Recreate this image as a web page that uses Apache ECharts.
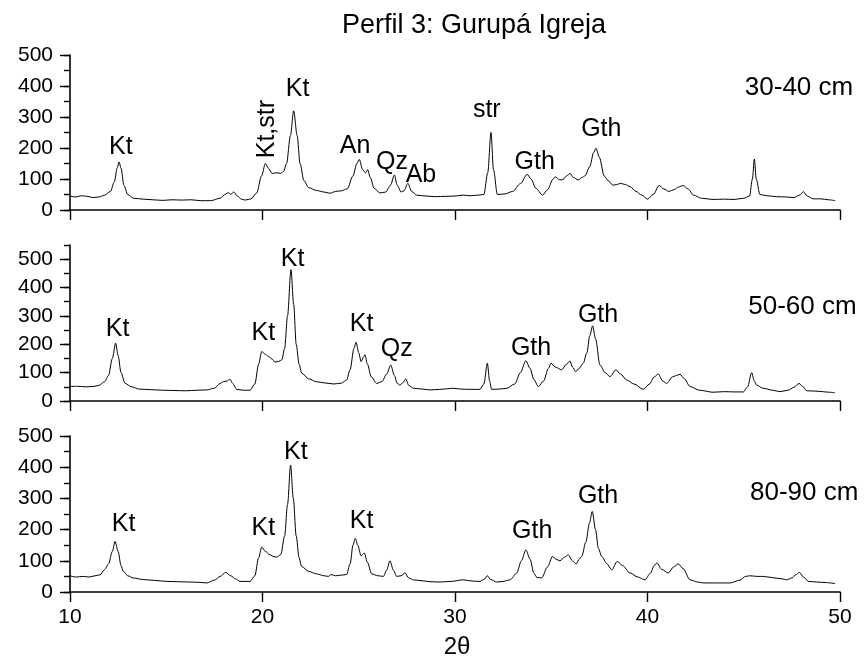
<!DOCTYPE html>
<html>
<head>
<meta charset="utf-8">
<title>Perfil 3: Gurupá Igreja</title>
<script src="https://cdn.jsdelivr.net/npm/echarts@6/dist/echarts.min.js"></script>
<style>
	html, body { margin: 0; padding: 0; background: #fff; }
	#chart { width: 866px; height: 662px; }
</style>
</head>
<body>
<div id="chart"></div>
<script>
// 2theta / counts, one pair of arrays per depth
var angle1 = [10.0,10.3,10.6,10.9,11.2,11.5,11.8,12.1,12.3,12.45,12.55,12.65,12.8,13.0,13.3,13.8,14.3,14.8,15.3,15.8,16.3,16.8,17.3,17.8,18.1,18.25,18.35,18.5,18.7,18.9,19.1,19.4,19.7,19.95,20.15,20.3,20.5,20.75,20.95,21.1,21.25,21.45,21.62,21.8,21.95,22.15,22.4,22.8,23.2,23.5,23.8,24.1,24.4,24.7,24.9,25.03,25.2,25.35,25.46,25.6,25.8,26.1,26.4,26.65,26.85,27.0,27.2,27.35,27.55,27.75,28.0,28.5,29.0,29.5,30.0,30.4,30.8,31.2,31.5,31.7,31.87,32.0,32.2,32.6,33.0,33.4,33.75,33.95,34.2,34.55,34.8,35.1,35.2,35.45,35.6,35.8,35.97,36.15,36.4,36.6,36.75,37.0,37.2,37.32,37.5,37.75,37.95,38.2,38.4,38.6,38.85,39.1,39.4,39.7,40.0,40.3,40.6,40.85,41.1,41.4,41.6,41.86,42.1,42.4,42.8,43.4,44.0,44.5,45.0,45.3,45.45,45.55,45.65,45.84,46.2,46.7,47.2,47.6,47.9,48.1,48.3,48.6,49.0,49.4,49.75];
var counts1 = [45,42,46,44,40,42,48,60,90,135,155,135,80,50,38,35,33,31,33,32,33,30,30,38,52,56,50,58,45,35,32,36,55,110,150,135,118,120,118,125,150,240,320,240,150,95,72,63,58,54,60,62,68,110,150,163,130,120,130,105,70,55,58,80,113,80,58,62,86,60,48,45,43,44,45,48,46,48,50,120,250,130,50,52,60,85,115,100,70,48,65,100,107,97,98,110,118,105,97,105,110,140,185,199,170,110,95,80,82,86,82,75,60,48,35,50,79,68,60,66,74,79,68,48,38,34,35,34,38,45,100,164,100,50,46,43,42,40,48,59,45,36,36,33,30];

var angle2 = [10.0,10.4,10.8,11.2,11.5,11.8,12.0,12.2,12.37,12.5,12.65,12.86,13.2,13.6,14.2,14.8,15.4,16.0,16.6,17.1,17.5,17.8,17.96,18.15,18.31,18.45,18.66,19.0,19.35,19.6,19.8,19.96,20.15,20.3,20.5,20.65,20.85,21.0,21.15,21.3,21.48,21.62,21.75,21.9,22.04,22.4,22.8,23.2,23.7,24.1,24.37,24.55,24.75,24.86,25.0,25.12,25.25,25.32,25.45,25.65,25.93,26.2,26.45,26.66,26.85,27.0,27.14,27.3,27.44,27.6,27.84,28.3,28.7,29.2,29.6,29.9,30.3,30.8,31.3,31.5,31.68,31.8,31.9,32.3,32.7,33.1,33.4,33.68,33.9,34.1,34.33,34.6,34.85,34.99,35.2,35.54,35.8,35.97,36.1,36.27,36.45,36.66,36.85,37.0,37.15,37.3,37.53,37.8,38.05,38.36,38.6,38.92,39.3,39.78,40.1,40.35,40.56,40.8,41.0,41.3,41.5,41.69,41.9,42.21,42.7,43.4,44.0,44.5,44.98,45.2,45.41,45.55,45.67,46.0,46.5,46.88,47.3,47.6,47.87,48.05,48.27,48.7,49.1,49.4,49.74];
var counts2 = [51,52,50,51,55,68,90,150,204,160,100,62,50,42,40,38,37,36,38,39,45,62,68,70,77,62,41,38,38,60,130,174,165,157,148,137,140,145,185,300,463,340,200,130,98,78,68,64,60,63,74,110,185,207,170,139,155,163,130,85,62,68,95,127,90,62,56,65,78,55,45,42,39,41,43,45,42,41,41,60,133,70,41,42,45,60,100,142,115,75,51,70,115,133,120,110,130,141,120,104,115,133,170,230,265,220,127,100,86,110,95,74,60,41,60,85,95,70,62,85,90,94,80,51,38,31,33,32,32,50,100,70,56,45,38,33,38,48,62,52,36,35,33,31,29];

var angle3 = [10.0,10.3,10.69,11.0,11.3,11.56,11.8,12.0,12.2,12.34,12.5,12.65,12.77,13.0,13.29,13.8,14.4,15.02,15.6,16.2,16.7,17.1,17.5,17.8,18.09,18.35,18.6,18.83,19.35,19.6,19.8,19.96,20.15,20.39,20.6,20.74,20.95,21.15,21.3,21.46,21.6,21.75,21.9,22.03,22.4,22.81,23.2,23.42,23.56,23.8,24.1,24.37,24.55,24.7,24.82,24.95,25.12,25.29,25.45,25.67,26.0,26.28,26.45,26.62,26.8,26.97,27.2,27.4,27.6,27.84,28.3,28.7,29.22,29.8,30.43,30.9,31.3,31.5,31.68,31.85,32.17,32.5,32.86,33.2,33.45,33.68,33.9,34.1,34.25,34.5,34.8,35.07,35.25,35.45,35.7,35.89,36.1,36.29,36.45,36.58,36.8,36.98,37.13,37.3,37.45,37.62,37.9,38.14,38.43,38.7,39.09,39.5,39.87,40.15,40.35,40.48,40.75,41.08,41.35,41.6,41.85,42.21,42.6,42.9,43.5,44.29,44.8,45.1,45.32,45.7,46.01,46.5,47.0,47.22,47.5,47.7,47.89,48.1,48.36,48.8,49.3,49.74];
var counts3 = [52,48,50,48,52,55,72,90,130,162,130,85,66,52,45,40,37,34,33,32,31,29,38,50,63,52,42,34,34,52,110,144,130,119,113,112,120,180,280,407,300,180,110,82,66,58,52,50,56,52,54,56,90,150,172,150,116,125,95,58,52,50,70,100,70,50,52,61,45,39,36,33,32,34,39,35,34,40,52,40,32,34,39,60,100,135,105,60,47,45,80,114,105,100,112,119,100,90,105,114,160,220,258,200,140,114,90,71,98,85,61,48,39,60,85,93,72,61,80,90,75,39,32,29,29,29,38,50,52,50,50,46,42,39,45,55,63,48,34,32,30,27];

// peak labels: [2theta, counts, text]
var peaks1 = [[12.64, 202, 'Kt'], [21.82, 390, 'Kt'], [24.81, 207, 'An'], [26.73, 154, 'Qz'], [28.23, 113, 'Ab'], [31.65, 323, 'str'], [34.14, 153, 'Gth'], [37.6, 262, 'Gth']];
var rotated1 = [[20.26, 261, 'Kt,str']];
var peaks2 = [[12.47, 253, 'Kt'], [20.04, 239, 'Kt'], [21.56, 501, 'Kt'], [25.15, 271, 'Kt'], [26.97, 183, 'Qz'], [33.95, 188, 'Gth'], [37.43, 304, 'Gth']];
var peaks3 = [[12.78, 219, 'Kt'], [20.04, 204, 'Kt'], [21.73, 449, 'Kt'], [25.15, 226, 'Kt'], [34.01, 196, 'Gth'], [37.43, 308, 'Gth']];
var depths = [[47.87, 395, '30-40 cm'], [48.05, 332, '50-60 cm'], [48.14, 318, '80-90 cm']];

var yTicks = [0, 100, 200, 300, 400, 500];
var yMax = [500, 550, 500];

var font = 'Liberation Sans, Arial, sans-serif';

function pairs(xs, ys) {
	var out = [];
	for (var i = 0; i < xs.length; i++) {
		out.push([xs[i], ys[i]]);
	}
	return out;
}

function xAxisFor(i, showLabels) {
	return {
		type: 'value', gridIndex: i, min: 10, max: 50, interval: 10,
		axisLine: { lineStyle: { color: '#000', width: 1.6 } },
		axisTick: { length: 10, lineStyle: { color: '#000', width: 1.4 } },
		axisLabel: { show: showLabels, fontFamily: font, fontSize: 21, color: '#000', margin: 15 },
		splitLine: { show: false },
		name: showLabels ? '2θ' : '',
		nameLocation: 'middle', nameGap: 43,
		nameTextStyle: { fontFamily: font, fontSize: 24, color: '#000', padding: [0, 0, 0, 4] }
	};
}

// two y axes per panel: one carries the line and the short 50-step ticks,
// the other only the long ticks and the labels at the hundreds
function yAxesFor(i) {
	return [{
		type: 'value', gridIndex: i, position: 'left', min: 0, max: yMax[i], interval: 50,
		axisLine: { show: true, lineStyle: { color: '#000', width: 1.6 } },
		axisTick: { show: true, length: 6, lineStyle: { color: '#000', width: 1.4 } },
		axisLabel: { show: false },
		splitLine: { show: false }
	}, {
		type: 'value', gridIndex: i, position: 'left', offset: 0, min: 0, max: yMax[i],
		axisLine: { show: false },
		axisTick: { show: true, length: 10, customValues: yTicks, lineStyle: { color: '#000', width: 1.4 } },
		axisLabel: { show: true, customValues: yTicks, fontFamily: font, fontSize: 21, color: '#000', margin: 17 },
		splitLine: { show: false }
	}];
}

function labelSeries(i, data, size, rotate) {
	return {
		type: 'scatter', xAxisIndex: i, yAxisIndex: i * 2,
		symbolSize: 0, silent: true, clip: false,
		itemStyle: { opacity: 1 },
		data: data,
		label: {
			show: true, position: 'inside', rotate: rotate || 0,
			fontFamily: font, fontSize: size, color: '#000', opacity: 1,
			formatter: function(p) { return p.value[2]; }
		}
	};
}

function lineSeries(i, xs, ys) {
	return {
		type: 'line', xAxisIndex: i, yAxisIndex: i * 2,
		data: pairs(xs, ys),
		showSymbol: false, smooth: 0.3, smoothMonotone: 'x',
		lineStyle: { color: '#000', width: 1 },
		silent: true
	};
}

var option = {
	animation: false,
	backgroundColor: '#fff',
	title: {
		text: 'Perfil 3: Gurupá Igreja',
		left: 337, top: 7,
		textStyle: { fontFamily: font, fontSize: 27, fontWeight: 'normal', color: '#000' }
	},
	grid: [
		{ left: 70, top: 55, width: 770, height: 155, outerBoundsMode: 'none' },
		{ left: 70, top: 245, width: 770, height: 156, outerBoundsMode: 'none' },
		{ left: 70, top: 436, width: 770, height: 156, outerBoundsMode: 'none' }
	],
	xAxis: [xAxisFor(0, false), xAxisFor(1, false), xAxisFor(2, true)],
	yAxis: yAxesFor(0).concat(yAxesFor(1), yAxesFor(2)),
	series: [
		lineSeries(0, angle1, counts1),
		lineSeries(1, angle2, counts2),
		lineSeries(2, angle3, counts3),
		labelSeries(0, peaks1, 25),
		labelSeries(0, rotated1, 25, 90),
		labelSeries(1, peaks2, 25),
		labelSeries(2, peaks3, 25),
		labelSeries(0, [depths[0]], 26),
		labelSeries(1, [depths[1]], 26),
		labelSeries(2, [depths[2]], 26)
	]
};

var myChart = echarts.init(document.getElementById('chart'));
myChart.setOption(option);
</script>
</body>
</html>
